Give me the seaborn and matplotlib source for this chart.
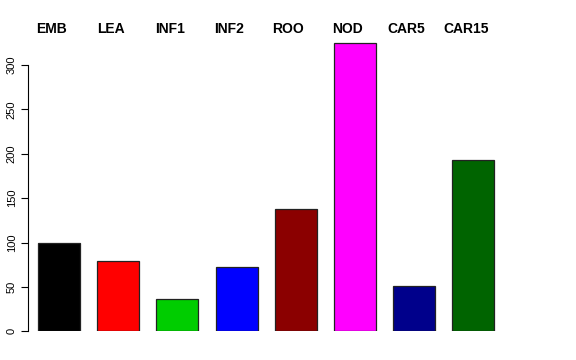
import matplotlib
matplotlib.use("Agg")
import matplotlib.pyplot as plt
import matplotlib.transforms as mtransforms
import seaborn as sns
import pandas as pd

categories = ["EMB", "LEA", "INF1", "INF2", "ROO", "NOD", "CAR5", "CAR15"]
values = [100, 79, 36, 72, 138, 325, 51, 193]
colors = ["#000000", "#FF0000", "#00CD00", "#0000FF", "#8B0000", "#FF00FF", "#00008B", "#006400"]
yticks = [0, 50, 100, 150, 200, 250, 300]

sns.set_style("white")
plt.rcParams["font.family"] = ["Liberation Sans", "DejaVu Sans"]
plt.rcParams["text.color"] = "black"
plt.rcParams["ytick.color"] = "black"
plt.rcParams["axes.labelcolor"] = "black"

W, H = 576, 360
fig = plt.figure(figsize=(5.76, 3.6), dpi=100)
left_px, right_px = 28, 532
bottom_px, top_px = 331.3, 38.4
ax = fig.add_axes([left_px / W, (H - bottom_px) / H, (right_px - left_px) / W, (bottom_px - top_px) / H])

df = pd.DataFrame({"cat": categories, "val": values})
sns.barplot(data=df, x="cat", y="val", hue="cat", palette=colors, order=categories,
            hue_order=categories, legend=False, width=0.71, edgecolor="#222222",
            linewidth=0.9, saturation=1, ax=ax)

ax.set_xlim(-0.524, 7.99)
ax.set_ylim(0, 330)
ax.set_xlabel("")
ax.set_ylabel("")
ax.set_xticks([])
ax.set_yticks(yticks)
ax.set_yticklabels([str(t) for t in yticks], rotation=90, va="center", fontsize=8, color="black")
ax.tick_params(axis="y", length=5, width=0.8, pad=3, left=True, color="black")
for s in ["top", "right", "bottom"]:
    ax.spines[s].set_visible(False)
ax.spines["left"].set_bounds(0, 300)
ax.spines["left"].set_linewidth(0.8)
ax.spines["left"].set_color("black")

trans = mtransforms.blended_transform_factory(ax.transData, fig.transFigure)
for i, c in enumerate(categories):
    ax.text(i - 0.13, (H - 29) / H, c, transform=trans, ha="center", va="center",
            fontsize=10, fontweight="bold", color="black", clip_on=False)

fig.savefig("out.png", dpi=100)
